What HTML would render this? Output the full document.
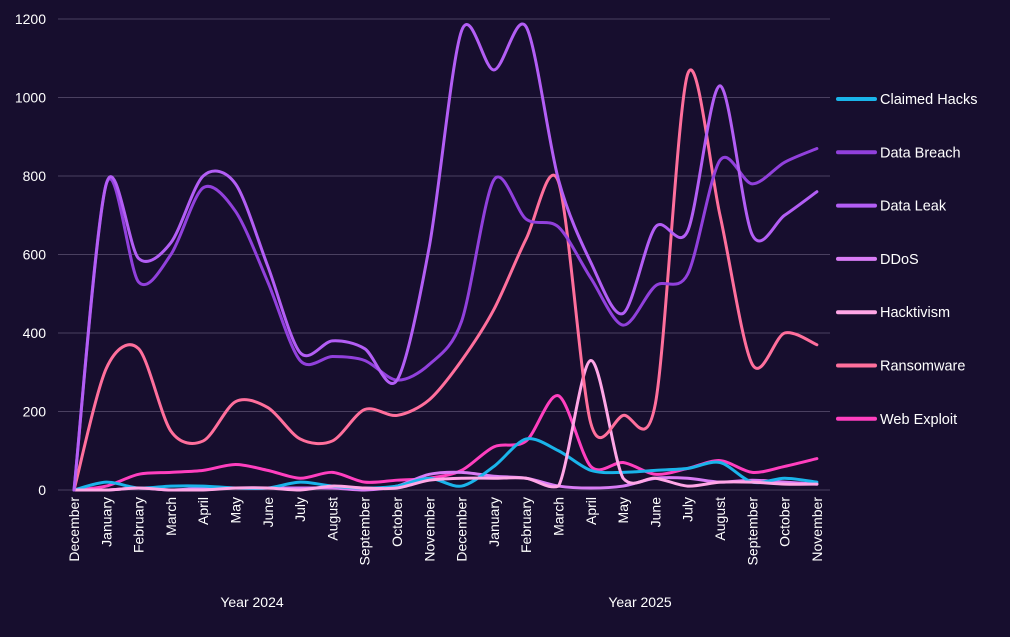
<!DOCTYPE html>
<html><head><meta charset="utf-8"><style>
html,body{margin:0;padding:0;background:#170e2e;}
svg{display:block;font-family:"Liberation Sans",sans-serif;}
</style></head><body>
<svg id="c" width="1010" height="637" xmlns="http://www.w3.org/2000/svg">
<rect width="1010" height="637" fill="#170e2e"/>
<g id="grid"></g><g id="lines" fill="none" stroke-width="3" stroke-linecap="round"></g><g id="lab" fill="#ffffff" font-size="14"></g>
<text x="252" y="607" fill="#fff" font-size="14" text-anchor="middle">Year 2024</text>
<text x="640" y="607" fill="#fff" font-size="14" text-anchor="middle">Year 2025</text>
</svg>
<script>
var NS="http://www.w3.org/2000/svg";
function el(t,a,p,txt){var e=document.createElementNS(NS,t);for(var k in a)e.setAttribute(k,a[k]);if(txt!=null)e.textContent=txt;p.appendChild(e);return e;}
var x0=74,dx=32.3,y0=490,ky=471/1200;
var g=document.getElementById('grid'),L=document.getElementById('lab'),G=document.getElementById('lines');
for(var v=0;v<=1200;v+=200){var y=y0-v*ky;el('line',{x1:58,x2:830,y1:y,y2:y,stroke:'#4a4060','stroke-width':1},g);el('text',{x:46,y:y+5,'text-anchor':'end'},L,String(v));}
var m=["December","January","February","March","April","May","June","July","August","September","October","November"];
var months=m.concat(m);
months.forEach(function(n,i){var x=x0+i*dx+5;el('text',{x:0,y:0,'text-anchor':'end',transform:'translate('+x+',497) rotate(-90)'},L,n);});
var S=[
["Web Exploit","#ff3fbf",[0,10,40,45,50,65,50,30,45,20,25,30,50,110,125,240,60,70,40,55,75,45,60,80]],
["DDoS","#d97cf5",[0,0,5,0,5,5,5,5,5,0,10,40,45,35,30,10,5,10,30,30,20,25,20,15]],
["Claimed Hacks","#1ab4ea",[0,20,5,10,10,5,5,20,10,5,10,30,10,60,130,100,50,45,50,55,70,20,30,20]],
["Hacktivism","#ffa6e6",[0,0,5,0,0,5,5,0,10,5,5,25,30,30,30,10,330,30,30,10,20,20,15,15]],
["Ransomware","#ff6f9c",[0,310,360,150,125,225,210,130,125,205,190,230,330,460,640,785,170,190,220,1060,700,320,400,370]],
["Data Breach","#9140dc",[0,780,530,600,770,710,530,330,340,330,280,320,430,790,690,670,540,420,520,550,840,780,835,870]],
["Data Leak","#b35ef5",[0,780,590,630,800,780,570,350,380,360,280,620,1170,1070,1180,790,580,450,670,660,1030,650,700,760]]
];
function path(d){var p=d.map(function(v,i){return [x0+i*dx,y0-v*ky];});var s="M"+p[0][0]+","+p[0][1];
function cl(y){return Math.min(y,y0);}
for(var i=0;i<p.length-1;i++){var a=p[Math.max(0,i-1)],b=p[i],c=p[i+1],e=p[Math.min(p.length-1,i+2)];
var t=0.15;s+=" C"+(b[0]+(c[0]-a[0])*t)+","+cl(b[1]+(c[1]-a[1])*t)+" "+(c[0]-(e[0]-b[0])*t)+","+cl(c[1]-(e[1]-b[1])*t)+" "+c[0]+","+c[1];}return s;}
S.forEach(function(s){el('path',{d:path(s[2]),stroke:s[1]},G);});
var order=["Claimed Hacks","Data Breach","Data Leak","DDoS","Hacktivism","Ransomware","Web Exploit"];
order.forEach(function(n,i){var s=S.filter(function(q){return q[0]==n;})[0];var y=99+i*53.3;
el('line',{x1:838,x2:875,y1:y,y2:y,stroke:s[1],'stroke-width':4,'stroke-linecap':'round'},G);
el('text',{x:880,y:y+5,'font-size':'14.5'},L,n);});
</script>
</body></html>
